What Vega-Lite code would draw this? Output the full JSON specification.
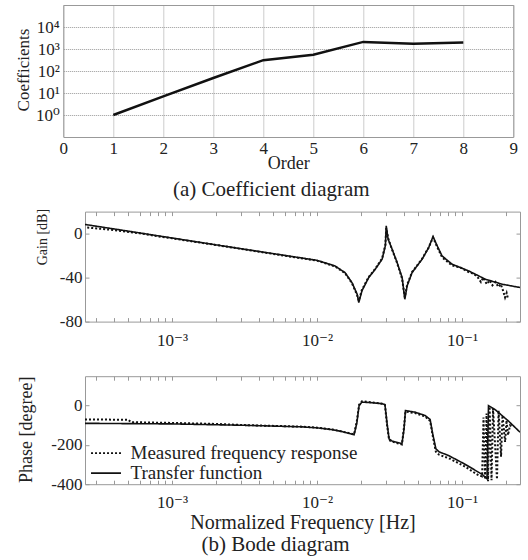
{
  "$schema": "https://vega.github.io/schema/vega-lite/v6.json",
  "padding": {"left": 13, "top": 4, "right": 0, "bottom": 0},
  "background": "white",
  "datasets": {
    "coef": [
      {"order": 1, "c": 1}, {"order": 2, "c": 7}, {"order": 3, "c": 48}, {"order": 4, "c": 310},
      {"order": 5, "c": 550}, {"order": 6, "c": 2100}, {"order": 7, "c": 1750}, {"order": 8, "c": 1950}
    ],
    "gain": [
      {"f": 0.000251, "v": 8.3, "s": "Transfer function"},
      {"f": 0.0005, "v": 2.2, "s": "Transfer function"},
      {"f": 0.001, "v": -4, "s": "Transfer function"},
      {"f": 0.002, "v": -10.2, "s": "Transfer function"},
      {"f": 0.004, "v": -16.3, "s": "Transfer function"},
      {"f": 0.007, "v": -21.2, "s": "Transfer function"},
      {"f": 0.01, "v": -24.3, "s": "Transfer function"},
      {"f": 0.0133, "v": -29.4, "s": "Transfer function"},
      {"f": 0.0156, "v": -35.5, "s": "Transfer function"},
      {"f": 0.0174, "v": -44.5, "s": "Transfer function"},
      {"f": 0.0189, "v": -55, "s": "Transfer function"},
      {"f": 0.0194, "v": -62.7, "s": "Transfer function"},
      {"f": 0.0204, "v": -52, "s": "Transfer function"},
      {"f": 0.0227, "v": -40, "s": "Transfer function"},
      {"f": 0.0252, "v": -32.4, "s": "Transfer function"},
      {"f": 0.0281, "v": -23.3, "s": "Transfer function"},
      {"f": 0.0296, "v": -11, "s": "Transfer function"},
      {"f": 0.03, "v": 7, "s": "Transfer function"},
      {"f": 0.0309, "v": -5, "s": "Transfer function"},
      {"f": 0.0329, "v": -14, "s": "Transfer function"},
      {"f": 0.0356, "v": -26, "s": "Transfer function"},
      {"f": 0.0386, "v": -40, "s": "Transfer function"},
      {"f": 0.0403, "v": -59.7, "s": "Transfer function"},
      {"f": 0.0418, "v": -47.5, "s": "Transfer function"},
      {"f": 0.0452, "v": -35.5, "s": "Transfer function"},
      {"f": 0.053, "v": -23.3, "s": "Transfer function"},
      {"f": 0.0589, "v": -12.7, "s": "Transfer function"},
      {"f": 0.0631, "v": -2.7, "s": "Transfer function"},
      {"f": 0.0673, "v": -11, "s": "Transfer function"},
      {"f": 0.0728, "v": -20.3, "s": "Transfer function"},
      {"f": 0.0853, "v": -27.8, "s": "Transfer function"},
      {"f": 0.111, "v": -33.9, "s": "Transfer function"},
      {"f": 0.145, "v": -41.5, "s": "Transfer function"},
      {"f": 0.189, "v": -46, "s": "Transfer function"},
      {"f": 0.251, "v": -49, "s": "Transfer function"},
      {"f": 0.00026, "v": 5.5, "s": "Measured frequency response"},
      {"f": 0.0004, "v": 3.2, "s": "Measured frequency response"},
      {"f": 0.0006, "v": 0.3, "s": "Measured frequency response"},
      {"f": 0.0008, "v": -2.5, "s": "Measured frequency response"},
      {"f": 0.001, "v": -4.3, "s": "Measured frequency response"},
      {"f": 0.002, "v": -10.3, "s": "Measured frequency response"},
      {"f": 0.004, "v": -16.5, "s": "Measured frequency response"},
      {"f": 0.007, "v": -21.5, "s": "Measured frequency response"},
      {"f": 0.01, "v": -24.6, "s": "Measured frequency response"},
      {"f": 0.0133, "v": -29.8, "s": "Measured frequency response"},
      {"f": 0.0156, "v": -36, "s": "Measured frequency response"},
      {"f": 0.0174, "v": -45, "s": "Measured frequency response"},
      {"f": 0.0189, "v": -56, "s": "Measured frequency response"},
      {"f": 0.0194, "v": -61, "s": "Measured frequency response"},
      {"f": 0.0204, "v": -51, "s": "Measured frequency response"},
      {"f": 0.0227, "v": -39.5, "s": "Measured frequency response"},
      {"f": 0.0252, "v": -32, "s": "Measured frequency response"},
      {"f": 0.0281, "v": -22.5, "s": "Measured frequency response"},
      {"f": 0.0296, "v": -10, "s": "Measured frequency response"},
      {"f": 0.03, "v": 5, "s": "Measured frequency response"},
      {"f": 0.0309, "v": -4, "s": "Measured frequency response"},
      {"f": 0.0329, "v": -14.5, "s": "Measured frequency response"},
      {"f": 0.0356, "v": -26.5, "s": "Measured frequency response"},
      {"f": 0.0386, "v": -41, "s": "Measured frequency response"},
      {"f": 0.0403, "v": -58, "s": "Measured frequency response"},
      {"f": 0.0418, "v": -46.5, "s": "Measured frequency response"},
      {"f": 0.0452, "v": -35, "s": "Measured frequency response"},
      {"f": 0.053, "v": -23, "s": "Measured frequency response"},
      {"f": 0.0589, "v": -12.5, "s": "Measured frequency response"},
      {"f": 0.0631, "v": -3.5, "s": "Measured frequency response"},
      {"f": 0.0673, "v": -12, "s": "Measured frequency response"},
      {"f": 0.0728, "v": -21.5, "s": "Measured frequency response"},
      {"f": 0.0853, "v": -29, "s": "Measured frequency response"},
      {"f": 0.098, "v": -31, "s": "Measured frequency response"},
      {"f": 0.111, "v": -35, "s": "Measured frequency response"},
      {"f": 0.12, "v": -36.5, "s": "Measured frequency response"},
      {"f": 0.128, "v": -39.5, "s": "Measured frequency response"},
      {"f": 0.135, "v": -44, "s": "Measured frequency response"},
      {"f": 0.14, "v": -40, "s": "Measured frequency response"},
      {"f": 0.148, "v": -46, "s": "Measured frequency response"},
      {"f": 0.155, "v": -42.5, "s": "Measured frequency response"},
      {"f": 0.162, "v": -47, "s": "Measured frequency response"},
      {"f": 0.17, "v": -44, "s": "Measured frequency response"},
      {"f": 0.178, "v": -48.5, "s": "Measured frequency response"},
      {"f": 0.185, "v": -46, "s": "Measured frequency response"},
      {"f": 0.192, "v": -52, "s": "Measured frequency response"},
      {"f": 0.198, "v": -58, "s": "Measured frequency response"},
      {"f": 0.203, "v": -54, "s": "Measured frequency response"},
      {"f": 0.208, "v": -60, "s": "Measured frequency response"}
    ],
    "phase": [
      {"f": 0.000251, "v": -90, "s": "Transfer function"},
      {"f": 0.001, "v": -93, "s": "Transfer function"},
      {"f": 0.00316, "v": -100, "s": "Transfer function"},
      {"f": 0.00788, "v": -108, "s": "Transfer function"},
      {"f": 0.01, "v": -113, "s": "Transfer function"},
      {"f": 0.0127, "v": -122, "s": "Transfer function"},
      {"f": 0.0149, "v": -132, "s": "Transfer function"},
      {"f": 0.0168, "v": -142, "s": "Transfer function"},
      {"f": 0.018, "v": -148, "s": "Transfer function"},
      {"f": 0.0188, "v": -90, "s": "Transfer function"},
      {"f": 0.0195, "v": 0, "s": "Transfer function"},
      {"f": 0.0204, "v": 18, "s": "Transfer function"},
      {"f": 0.0239, "v": 15, "s": "Transfer function"},
      {"f": 0.0281, "v": 10, "s": "Transfer function"},
      {"f": 0.0294, "v": 5, "s": "Transfer function"},
      {"f": 0.0304, "v": -90, "s": "Transfer function"},
      {"f": 0.0314, "v": -170, "s": "Transfer function"},
      {"f": 0.0329, "v": -180, "s": "Transfer function"},
      {"f": 0.0385, "v": -193, "s": "Transfer function"},
      {"f": 0.0398, "v": -120, "s": "Transfer function"},
      {"f": 0.0407, "v": -25, "s": "Transfer function"},
      {"f": 0.0473, "v": -33, "s": "Transfer function"},
      {"f": 0.0556, "v": -50, "s": "Transfer function"},
      {"f": 0.0602, "v": -70, "s": "Transfer function"},
      {"f": 0.063, "v": -150, "s": "Transfer function"},
      {"f": 0.066, "v": -220, "s": "Transfer function"},
      {"f": 0.0694, "v": -235, "s": "Transfer function"},
      {"f": 0.0812, "v": -255, "s": "Transfer function"},
      {"f": 0.1047, "v": -298, "s": "Transfer function"},
      {"f": 0.1375, "v": -350, "s": "Transfer function"},
      {"f": 0.1486, "v": -372, "s": "Transfer function"},
      {"f": 0.1522, "v": 0, "s": "Transfer function"},
      {"f": 0.169, "v": -20, "s": "Transfer function"},
      {"f": 0.2094, "v": -79, "s": "Transfer function"},
      {"f": 0.251, "v": -135, "s": "Transfer function"},
      {"f": 0.000251, "v": -70, "s": "Measured frequency response"},
      {"f": 0.0005, "v": -72, "s": "Measured frequency response"},
      {"f": 0.00052, "v": -84, "s": "Measured frequency response"},
      {"f": 0.001, "v": -88, "s": "Measured frequency response"},
      {"f": 0.002, "v": -93, "s": "Measured frequency response"},
      {"f": 0.00316, "v": -99, "s": "Measured frequency response"},
      {"f": 0.00788, "v": -107, "s": "Measured frequency response"},
      {"f": 0.01, "v": -112, "s": "Measured frequency response"},
      {"f": 0.0127, "v": -121, "s": "Measured frequency response"},
      {"f": 0.0149, "v": -132, "s": "Measured frequency response"},
      {"f": 0.0168, "v": -141, "s": "Measured frequency response"},
      {"f": 0.018, "v": -146, "s": "Measured frequency response"},
      {"f": 0.0188, "v": -80, "s": "Measured frequency response"},
      {"f": 0.0195, "v": 5, "s": "Measured frequency response"},
      {"f": 0.0204, "v": 22, "s": "Measured frequency response"},
      {"f": 0.0239, "v": 17, "s": "Measured frequency response"},
      {"f": 0.0281, "v": 10, "s": "Measured frequency response"},
      {"f": 0.0294, "v": 3, "s": "Measured frequency response"},
      {"f": 0.0304, "v": -100, "s": "Measured frequency response"},
      {"f": 0.0314, "v": -175, "s": "Measured frequency response"},
      {"f": 0.0329, "v": -183, "s": "Measured frequency response"},
      {"f": 0.0385, "v": -198, "s": "Measured frequency response"},
      {"f": 0.0398, "v": -110, "s": "Measured frequency response"},
      {"f": 0.0407, "v": -30, "s": "Measured frequency response"},
      {"f": 0.0473, "v": -38, "s": "Measured frequency response"},
      {"f": 0.0556, "v": -55, "s": "Measured frequency response"},
      {"f": 0.0602, "v": -78, "s": "Measured frequency response"},
      {"f": 0.063, "v": -160, "s": "Measured frequency response"},
      {"f": 0.066, "v": -235, "s": "Measured frequency response"},
      {"f": 0.0694, "v": -250, "s": "Measured frequency response"},
      {"f": 0.0812, "v": -268, "s": "Measured frequency response"},
      {"f": 0.1047, "v": -310, "s": "Measured frequency response"},
      {"f": 0.13, "v": -355, "s": "Measured frequency response"},
      {"f": 0.1375, "v": -360, "s": "Measured frequency response"},
      {"f": 0.1406, "v": -60, "s": "Measured frequency response"},
      {"f": 0.1442, "v": -375, "s": "Measured frequency response"},
      {"f": 0.1476, "v": -40, "s": "Measured frequency response"},
      {"f": 0.1511, "v": -385, "s": "Measured frequency response"},
      {"f": 0.1549, "v": -5, "s": "Measured frequency response"},
      {"f": 0.1597, "v": -380, "s": "Measured frequency response"},
      {"f": 0.1636, "v": -15, "s": "Measured frequency response"},
      {"f": 0.1742, "v": -375, "s": "Measured frequency response"},
      {"f": 0.1786, "v": -25, "s": "Measured frequency response"},
      {"f": 0.1858, "v": -260, "s": "Measured frequency response"},
      {"f": 0.1901, "v": -50, "s": "Measured frequency response"},
      {"f": 0.1981, "v": -185, "s": "Measured frequency response"},
      {"f": 0.2028, "v": -75, "s": "Measured frequency response"},
      {"f": 0.2075, "v": -150, "s": "Measured frequency response"},
      {"f": 0.2143, "v": -100, "s": "Measured frequency response"},
      {"f": 0.2249, "v": -110, "s": "Measured frequency response"}
    ]
  },
  "columns": 1,
  "align": {"row": "none", "column": "all"},
  "center": {"row": false, "column": true},
  "bounds": "full",
  "spacing": 6.6,
  "resolve": {"scale": {"strokeDash": "independent"}, "legend": {"strokeDash": "independent"}},
  "concat": [
    {
      "width": 450,
      "height": 132,
      "data": {"name": "coef"},
      "title": {"text": "(a) Coefficient diagram", "orient": "bottom", "anchor": "middle", "fontSize": 21, "offset": 6.6, "dx": -17},
      "mark": {"type": "line", "color": "#111", "strokeWidth": 2.5},
      "encoding": {
        "x": {"field": "order", "type": "quantitative", "scale": {"domain": [0, 9], "nice": false},
          "axis": {"values": [0, 1, 2, 3, 4, 5, 6, 7, 8, 8.983, 9],
            "labelExpr": "datum.value == 8.983 ? '0000000' : datum.label",
            "labelOpacity": {"condition": {"test": "datum.value == 8.983", "value": 0}, "value": 1},
            "gridOpacity": {"condition": {"test": "datum.value == 8.983", "value": 0}, "value": 1},
            "title": "Order", "titleFontSize": 18, "titlePadding": -2.5,
            "labelFontSize": 17, "labelPadding": 3.5, "labelOverlap": false, "ticks": false, "domain": false, "grid": true, "gridDash": [1, 1], "gridColor": "#999", "labelFlush": false}},
        "y": {"field": "c", "type": "quantitative", "scale": {"type": "log", "domain": [0.1, 100000], "nice": false},
          "axis": {"values": [1, 10, 100, 1000, 10000], "labelExpr": "'10' + ['⁰','¹','²','³','⁴'][round(log(datum.value)/LN10)]",
            "title": "Coefficients", "titleFontSize": 17, "titleX": -31, "titleY": 64.5,
            "labelFontSize": 17, "labelPadding": 4, "ticks": false, "domain": false, "grid": true, "gridDash": [1, 1], "gridColor": "#999"}}
      }
    },
    {
      "width": 435,
      "height": 110,
      "layer": [
        {
          "data": {"name": "gain"},
          "transform": [{"filter": "datum.s === 'Transfer function'"}],
          "mark": {"type": "line", "color": "#111", "strokeWidth": 1.6, "clip": true},
          "encoding": {
            "x": {"field": "f", "type": "quantitative", "scale": {"type": "log", "domain": [0.000251, 0.251], "nice": false},
              "axis": {"orient": "bottom", "values": [0.0003,0.0004,0.0005,0.0006,0.0007,0.0008,0.0009,0.001,0.002,0.003,0.004,0.005,0.006,0.007,0.008,0.009,0.01,0.02,0.03,0.04,0.05,0.06,0.07,0.08,0.09,0.1,0.2],
                "labelExpr": "abs(log(datum.value)/LN10 - round(log(datum.value)/LN10)) < 0.01 ? '10⁻' + ['⁰','¹','²','³','⁴'][round(-log(datum.value)/LN10)] : ''",
                "labelOverlap": false, "labelFlush": false, "labelFontSize": 17, "labelPadding": 14.5, "tickSize": -4, "tickColor": "#999", "domain": false, "grid": false,
                "title": " ", "titleFontSize": 10, "titlePadding": 9.5}},
            "y": {"field": "v", "type": "quantitative", "scale": {"domain": [-80, 20], "nice": false},
              "axis": {"orient": "left", "values": [-80, -40, 0], "labelExpr": "'' + datum.value", "labelFontSize": 17, "labelPadding": 7, "tickSize": -4, "tickColor": "#999", "domain": false, "grid": false,
                "title": "Gain [dB]", "titleFontSize": 14, "titleX": -36, "titleY": 25}},
            "strokeDash": {"field": "s", "type": "nominal", "scale": {"domain": ["Measured frequency response", "Transfer function"], "range": [[2, 2], [1, 0]]}, "legend": null}
          }
        },
        {
          "data": {"name": "gain"},
          "transform": [{"filter": "datum.s !== 'Transfer function'"}],
          "mark": {"type": "line", "color": "#111", "strokeWidth": 2, "clip": true},
          "encoding": {
            "x": {"field": "f", "type": "quantitative", "scale": {"type": "log", "domain": [0.000251, 0.251], "nice": false},
              "axis": {"orient": "top", "values": [0.0003,0.0004,0.0005,0.0006,0.0007,0.0008,0.0009,0.001,0.002,0.003,0.004,0.005,0.006,0.007,0.008,0.009,0.01,0.02,0.03,0.04,0.05,0.06,0.07,0.08,0.09,0.1,0.2],
                "labels": false, "tickSize": -4, "tickColor": "#999", "domain": false, "grid": false, "title": null}},
            "y": {"field": "v", "type": "quantitative", "scale": {"domain": [-80, 20], "nice": false},
              "axis": {"orient": "right", "values": [-80, -40, 0], "labels": false, "tickSize": -4, "tickColor": "#999", "domain": false, "grid": false, "title": null}},
            "strokeDash": {"field": "s", "type": "nominal", "scale": {"domain": ["Measured frequency response", "Transfer function"], "range": [[2, 2], [1, 0]]}, "legend": null}
          }
        }
      ],
      "resolve": {"axis": {"x": "independent", "y": "independent"}}
    },
    {
      "width": 435,
      "height": 108,
      "title": {"text": "(b) Bode diagram", "orient": "bottom", "anchor": "middle", "fontSize": 21, "offset": 2, "dx": -27},
      "layer": [
        {
          "data": {"name": "phase"},
          "transform": [{"filter": "datum.s === 'Transfer function'"}],
          "mark": {"type": "line", "color": "#111", "strokeWidth": 1.6, "clip": true},
          "encoding": {
            "x": {"field": "f", "type": "quantitative", "scale": {"type": "log", "domain": [0.000251, 0.251], "nice": false},
              "axis": {"orient": "bottom", "values": [0.0003,0.0004,0.0005,0.0006,0.0007,0.0008,0.0009,0.001,0.002,0.003,0.004,0.005,0.006,0.007,0.008,0.009,0.01,0.02,0.03,0.04,0.05,0.06,0.07,0.08,0.09,0.1,0.2],
                "labelExpr": "abs(log(datum.value)/LN10 - round(log(datum.value)/LN10)) < 0.01 ? '10⁻' + ['⁰','¹','²','³','⁴'][round(-log(datum.value)/LN10)] : ''",
                "labelOverlap": false, "labelFlush": false, "labelFontSize": 17, "labelPadding": 14.5, "tickSize": -4, "tickColor": "#999", "domain": false, "grid": false,
                "title": "Normalized Frequency [Hz]", "titleFontSize": 20, "titlePadding": 1.5}},
            "y": {"field": "v", "type": "quantitative", "scale": {"domain": [-400, 150], "nice": false},
              "axis": {"orient": "left", "values": [-400, -200, 0], "labelExpr": "'' + datum.value", "labelFontSize": 17, "labelPadding": 7, "tickSize": -4, "tickColor": "#999", "domain": false, "grid": false,
                "title": "Phase [degree]", "titleFontSize": 18, "titleX": -50, "titleY": 53}},
            "strokeDash": {"field": "s", "type": "nominal", "scale": {"domain": ["Measured frequency response", "Transfer function"], "range": [[2, 2], [1, 0]]},
              "legend": {"orient": "none", "legendX": 11.5, "legendY": 67.5, "title": null, "symbolType": "M-2.14,0H2.14", "symbolSize": 196, "symbolStrokeWidth": 1.8, "symbolStrokeColor": "#111", "labelFontSize": 19, "labelOffset": 15, "labelLimit": 400, "rowPadding": -2, "labelColor": "#222"}}
          }
        },
        {
          "data": {"name": "phase"},
          "transform": [{"filter": "datum.s !== 'Transfer function'"}],
          "mark": {"type": "line", "color": "#111", "strokeWidth": 2, "clip": true},
          "encoding": {
            "x": {"field": "f", "type": "quantitative", "scale": {"type": "log", "domain": [0.000251, 0.251], "nice": false},
              "axis": {"orient": "top", "values": [0.0003,0.0004,0.0005,0.0006,0.0007,0.0008,0.0009,0.001,0.002,0.003,0.004,0.005,0.006,0.007,0.008,0.009,0.01,0.02,0.03,0.04,0.05,0.06,0.07,0.08,0.09,0.1,0.2],
                "labels": false, "tickSize": -4, "tickColor": "#999", "domain": false, "grid": false, "title": null}},
            "y": {"field": "v", "type": "quantitative", "scale": {"domain": [-400, 150], "nice": false},
              "axis": {"orient": "right", "values": [-400, -200, 0], "labels": false, "tickSize": -4, "tickColor": "#999", "domain": false, "grid": false, "title": null}},
            "strokeDash": {"field": "s", "type": "nominal", "scale": {"domain": ["Measured frequency response", "Transfer function"], "range": [[2, 2], [1, 0]]},
              "legend": {"orient": "none", "legendX": 11.5, "legendY": 67.5, "title": null, "symbolType": "M-2.14,0H2.14", "symbolSize": 196, "symbolStrokeWidth": 1.8, "symbolStrokeColor": "#111", "labelFontSize": 19, "labelOffset": 15, "labelLimit": 400, "rowPadding": -2, "labelColor": "#222"}}
          }
        }
      ],
      "resolve": {"axis": {"x": "independent", "y": "independent"}}
    }
  ],
  "config": {
    "font": "Liberation Serif, Times New Roman, DejaVu Serif, serif",
    "view": {"stroke": "#999", "strokeWidth": 1},
    "axis": {"labelFont": "Liberation Serif, Times New Roman, DejaVu Serif, serif", "titleFont": "Liberation Serif, Times New Roman, DejaVu Serif, serif", "labelColor": "#222", "titleColor": "#222", "titleFontWeight": "normal"},
    "legend": {"labelFont": "Liberation Serif, Times New Roman, DejaVu Serif, serif"},
    "title": {"font": "Liberation Serif, Times New Roman, DejaVu Serif, serif", "fontWeight": "normal", "color": "#222"}
  }
}
